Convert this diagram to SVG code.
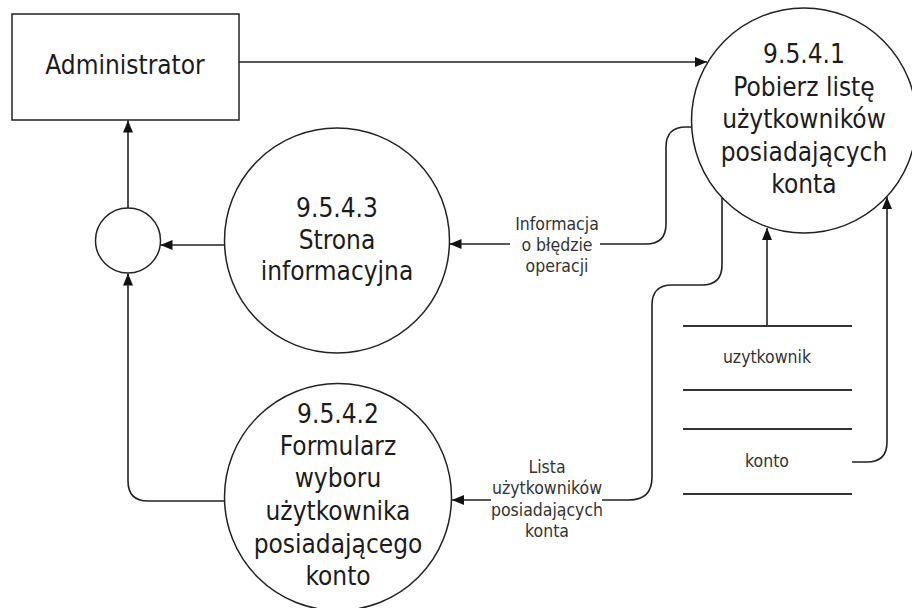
<svg xmlns="http://www.w3.org/2000/svg" width="912" height="608" viewBox="0 0 912 608">
<defs>
<marker id="arr" markerUnits="userSpaceOnUse" markerWidth="13" markerHeight="11" refX="12" refY="5" orient="auto">
<path d="M0,0 L12,5 L0,10 Z" fill="#111"/>
</marker>
<style>
.shape{fill:#fff;stroke:#222;stroke-width:1.5}
.line{fill:none;stroke:#222;stroke-width:1.6}
.store{stroke:#333;stroke-width:2}
.t{font-family:"DejaVu Sans Condensed","DejaVu Sans",sans-serif;font-size:26px;fill:#1c1c1c;text-anchor:middle}
.lbl{font-family:"DejaVu Sans Condensed","DejaVu Sans",sans-serif;font-size:17.5px;fill:#333;text-anchor:middle}
.bg{fill:#fff;stroke:none}
</style>
</defs>
<rect width="912" height="608" fill="#fff"/>

<g id="connectors">
<path class="line" d="M239,62 H707" marker-end="url(#arr)"/>
<path class="line" d="M128,208 V120.5" marker-end="url(#arr)"/>
<path class="line" d="M225,245 H160.5" marker-end="url(#arr)"/>
<path class="line" d="M225,501 H148 Q128,501 128,481 V273.5" marker-end="url(#arr)"/>
<path class="line" d="M692,127 H686 Q666,127 666,147 V224 Q666,244 646,244 H449.5" marker-end="url(#arr)"/>
<path class="line" d="M722,198 V265 Q722,285 702,285 H672 Q652,285 652,305 V477 Q652,500 629,500 H452" marker-end="url(#arr)"/>
<path class="line" d="M767,326 V228" marker-end="url(#arr)"/>
<path class="line" d="M852,462 H867 Q887,462 887,442 V197" marker-end="url(#arr)"/>
</g>

<g id="label-informacja">
<rect class="bg" x="510" y="214" width="90" height="64"/>
<text class="lbl" x="557" y="230">Informacja</text>
<text class="lbl" x="557" y="251">o błędzie</text>
<text class="lbl" x="557" y="272">operacji</text>
</g>

<g id="label-lista">
<rect class="bg" x="491" y="457" width="111" height="84"/>
<text class="lbl" x="547" y="473">Lista</text>
<text class="lbl" x="547" y="494">użytkowników</text>
<text class="lbl" x="547" y="516">posiadających</text>
<text class="lbl" x="547" y="537">konta</text>
</g>

<g id="administrator">
<rect class="shape" x="12" y="14" width="227" height="106"/>
<text class="t" x="125" y="74">Administrator</text>
</g>

<g id="p9541">
<circle class="shape" cx="804" cy="120.5" r="112.5"/>
<text class="t" x="804" y="63">9.5.4.1</text>
<text class="t" x="804" y="95.5">Pobierz listę</text>
<text class="t" x="804" y="128">użytkowników</text>
<text class="t" x="804" y="160.5">posiadających</text>
<text class="t" x="804" y="193">konta</text>
</g>

<g id="p9543">
<circle class="shape" cx="337" cy="240.5" r="112.5"/>
<text class="t" x="337" y="217">9.5.4.3</text>
<text class="t" x="337" y="248.5">Strona</text>
<text class="t" x="337" y="280">informacyjna</text>
</g>

<g id="p9542">
<circle class="shape" cx="338" cy="497" r="113.5"/>
<text class="t" x="338" y="423">9.5.4.2</text>
<text class="t" x="338" y="455">Formularz</text>
<text class="t" x="338" y="487">wyboru</text>
<text class="t" x="338" y="520">użytkownika</text>
<text class="t" x="338" y="553">posiadającego</text>
<text class="t" x="338" y="585">konto</text>
</g>

<g id="junction">
<circle class="shape" cx="128" cy="240.5" r="32.5"/>
</g>

<g id="store-uzytkownik">
<line class="store" x1="683" y1="326" x2="852" y2="326"/>
<line class="store" x1="683" y1="390" x2="852" y2="390"/>
<text class="lbl" x="767" y="363">uzytkownik</text>
</g>

<g id="store-konto">
<line class="store" x1="683" y1="429" x2="852" y2="429"/>
<line class="store" x1="683" y1="494" x2="852" y2="494"/>
<text class="lbl" x="767" y="467">konto</text>
</g>
</svg>
